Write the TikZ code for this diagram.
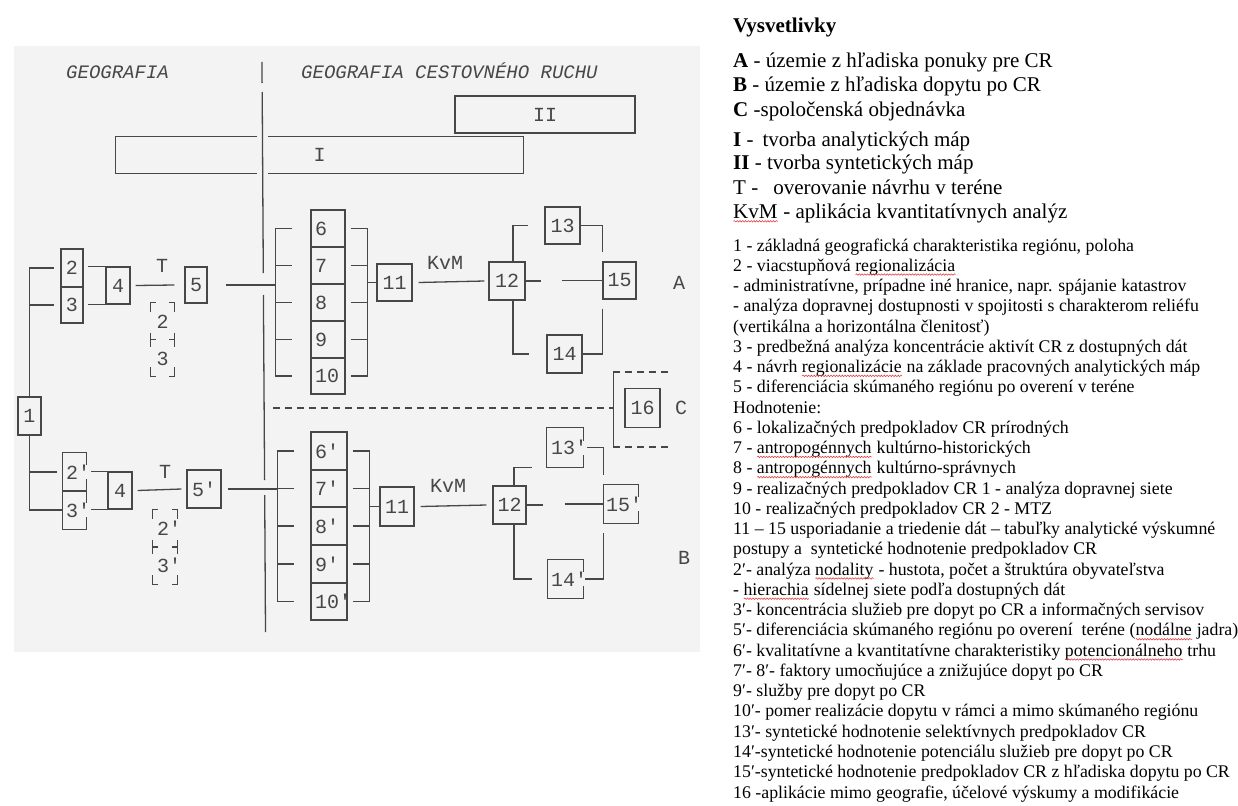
\documentclass[tikz,border=0pt]{standalone}
\usepackage{fontspec}
\setmainfont{Liberation Serif}
\newfontfamily\monof{Liberation Mono}[Ligatures=TeXOff]
\usetikzlibrary{calc,decorations.pathmorphing}

\definecolor{paper}{HTML}{F3F3F3}
\definecolor{inkc}{HTML}{474747}
\definecolor{spellred}{HTML}{E23B3B}

% red wavy spell-check underline under a word
\newlength\spellwd
\newcommand\spell[1]{\settowidth\spellwd{#1}\rlap{#1}\tikz[baseline=0pt,x=1pt,y=1pt]\draw[spellred,line width=0.55pt,decorate,decoration={snake,amplitude=0.75pt,segment length=2.8pt}] (0,-3.3) -- (\spellwd,-3.3);}

% box outline whose right edge is broken by the prime of its label
\newcommand\gapedge[1]{\draw[ink] ([yshift=7pt]#1.east) -- (#1.north east) -- (#1.north west) -- (#1.south west) -- (#1.south east) -- ([yshift=-7pt]#1.east);}

% bracket made only of corner and middle marks
\newcommand\cornermarks[1]{%
  \draw[ink] ([yshift=-9pt]#1.north west) -- (#1.north west) -- ([xshift=5pt]#1.north west);
  \draw[ink] ([yshift=-9pt]#1.north east) -- (#1.north east) -- ([xshift=-5pt]#1.north east);
  \draw[ink] ([yshift=9pt]#1.south west) -- (#1.south west) -- ([xshift=5pt]#1.south west);
  \draw[ink] ([yshift=9pt]#1.south east) -- (#1.south east) -- ([xshift=-5pt]#1.south east);
  \draw[ink] ([yshift=7pt]#1.west) -- ([yshift=-7pt]#1.west) (#1.west) -- ([xshift=5pt]#1.west);
  \draw[ink] ([yshift=7pt]#1.east) -- ([yshift=-7pt]#1.east) (#1.east) -- ([xshift=-5pt]#1.east);}

\newcommand\legline[2]{\node[legsmall] (ls#1) at (733,{251+20.26*#1}) {#2};}

\tikzset{
  ink/.style={draw=inkc, line width=1.3pt},
  dashedink/.style={ink, dash pattern=on 7pt off 5pt},
  mono/.style={font=\monof\fontsize{20}{20}\selectfont, text=inkc, inner sep=0pt},
  head/.style={font=\monof\itshape\fontsize{19}{19}\selectfont, text=inkc, inner sep=0pt, anchor=base west},
  box/.style={ink, mono, rectangle},
  stk/.style={align=left, text width=#1, inner xsep=4pt},
  legbig/.style={font=\fontsize{21}{24}\selectfont, anchor=base west, inner sep=0pt},
  legsmall/.style={font=\fontsize{17.8}{20}\selectfont, anchor=base west, inner sep=0pt},
}

\begin{document}
\begin{tikzpicture}[x=1pt,y=-1pt]
\useasboundingbox (0,0) rectangle (1238,805);
\fill[white] (0,0) rectangle (1238,805);
\fill[paper] (14,46) rectangle (700,652);

% headings and the dividing line
\node[head] (hGeo) at (66,79) {GEOGRAFIA};
\node[head] (hGcr) at (301,79) {GEOGRAFIA CESTOVNÉHO RUCHU};
\draw[ink] (262,62) -- (262.1,83);
\draw[ink] (262.2,92) -- (263.3,273);
\draw[ink] (263.4,295) -- (264.6,480);
\draw[ink] (264.7,495) -- (265.5,632);

% map bands I and II
\node[mono, minimum width=407, minimum height=36] (bI) at (319.5,155) {I};
\draw[ink] ([xshift=-62.5pt]bI.north) -- (bI.north west) -- (bI.south west) -- ([xshift=-62.5pt]bI.south);
\draw[ink] ([xshift=-51.5pt]bI.north) -- (bI.north east) -- (bI.south east) -- ([xshift=-51.5pt]bI.south);
\node[box, minimum width=180, minimum height=37] (bII) at (545,114.5) {II};

% ---------- supply branch (A) ----------
\node[box, minimum width=23, minimum height=38] (b1) at (29.5,416) {1};
\node[box, minimum width=22, minimum height=38] (b2) at (72,268) {2};
\node[box, minimum width=22, minimum height=36] (b3) at (72,305) {3};
\draw[ink] (b1.north) -- (b1.north |- b2.west) -- ([xshift=-6pt]b2.west);
\draw[ink] (b1.north |- b3.west) -- ([xshift=-6pt]b3.west);

\node[box, minimum width=24, minimum height=37] (b4) at (118,285.5) {4};
\draw[ink] ([xshift=-17pt]b4.north west) -- (b4.north west) ([xshift=-17pt]b4.south west) -- (b4.south west);
\node[box, minimum width=22, minimum height=36] (b5) at (196,285) {5};
\draw[ink] ([xshift=5pt]b4.east) -- ([xshift=-10pt]b5.west);
\node[mono] (tA) at (162,266) {T};

\node[minimum width=23, minimum height=73, inner sep=0pt] (db1) at (162.5,339.5) {};
\cornermarks{db1}
\node[mono] (d2) at (162.5,322) {2};
\node[mono] (d3) at (162.5,359) {3};

\foreach \n/\cy/\h in {6/228.5/37, 7/265.5/37, 8/302.5/37, 9/339.5/37, 10/376/36}
  \node[box, stk=26pt, minimum height=\h] (s\n) at (328,\cy) {\n};
\coordinate (ubL) at ([xshift=-35pt]s6.west);
\coordinate (ubR) at ([xshift=22pt]s6.east);
\draw[ink] ([xshift=-18pt]s6.west) -- (ubL) -- (ubL |- s10.west) -- ([xshift=-18pt]s10.west);
\foreach \r in {s7,s8,s9} \draw[ink] (ubL |- \r.west) -- ([xshift=-18pt]\r.west);
\draw[ink] ([xshift=18pt]b5.east) -- (ubL |- b5.east);
\draw[ink] ([xshift=5pt]s6.east) -- (ubR) -- (ubR |- s10.east) -- ([xshift=5pt]s10.east);
\foreach \r in {s7,s8,s9} \draw[ink] ([xshift=5pt]\r.east) -- (ubR |- \r.east);

\node[box, minimum width=35, minimum height=37] (b11) at (394.5,282.5) {11};
\draw[ink] (ubR |- b11.west) -- (b11.west);
\node[mono] (kvA) at (445,263) {KvM};
\node[box, minimum width=36, minimum height=38] (b12) at (507,281) {12};
\draw[ink] ([xshift=6pt]b11.east) -- ([xshift=-4pt]b12.west);
\node[box, minimum width=35, minimum height=37] (b13) at (562.5,225.5) {13};
\node[box, minimum width=35, minimum height=38] (b14) at (564.5,354) {14};
\node[box, minimum width=33, minimum height=37] (b15) at (619.5,280.5) {15};
\draw[ink] ([xshift=6pt]b12.north) |- ([xshift=-16pt]b13.west);
\draw[ink] ([xshift=6pt]b12.south) |- ([xshift=-17pt]b14.west);
\draw[ink] (b13.east) -| ([yshift=9pt]b15.north west);
\draw[ink] ([yshift=-9pt]b15.south west) |- (b14.east);
\draw[ink] (b12.east) -- ++(15,0);
\draw[ink] ([xshift=-40pt]b15.west) -- (b15.west);
\node[mono] (lA) at (679,283) {A};

% ---------- commissioned work (C) ----------
\node[box, minimum width=35, minimum height=39] (b16) at (642.5,408) {16};
\coordinate (cL) at (273,408);
\coordinate (cTop) at (671,372);
\coordinate (cBot) at (671,447);
\coordinate (cV) at ([xshift=-11pt]b16.west);
\draw[dashedink] (cL) -- (cV);
\draw[ink] (cV |- cTop) -- (cV |- cBot);
\draw[dashedink] (cV |- cTop) -- (cTop);
\draw[dashedink] (cV |- cBot) -- (cBot);
\node[mono] (lC) at (681,408) {C};

% ---------- demand branch (B) ----------
\node[mono, align=left, text width=17pt, inner xsep=3pt, minimum height=38] (b2p) at (74.5,472) {2'};
\node[mono, align=left, text width=17pt, inner xsep=3pt, minimum height=38] (b3p) at (74.5,510) {3'};
\gapedge{b2p}
\gapedge{b3p}
\draw[ink] (b1.south) -- (b1.south |- b3p.west) -- ([xshift=-1pt]b3p.west);
\draw[ink] (b1.south |- b2p.west) -- ([xshift=-6pt]b2p.west);

\node[box, minimum width=24, minimum height=37] (b4p) at (120,490.5) {4};
\draw[ink] ([xshift=-16pt]b4p.north west) -- (b4p.north west) ([xshift=-16pt]b4p.south west) -- (b4p.south west);
\node[box, minimum width=34, minimum height=38] (b5p) at (204,489) {5'};
\draw[ink] ([xshift=5pt]b4p.east) -- ([xshift=-5pt]b5p.west);
\node[mono] (tB) at (165,472) {T};

\node[minimum width=24, minimum height=74, inner sep=0pt] (db2) at (165,547) {};
\cornermarks{db2}
\node[mono] (d2p) at (169,528) {2'};
\node[mono] (d3p) at (169,565) {3'};

\foreach \n/\cy/\h in {6/451/38, 7/488.5/37, 8/526/38, 9/564/38, 10/601.5/37}
  \node[box, stk=28pt, minimum height=\h] (sp\n) at (329,\cy) {\n'};
\coordinate (lbL) at ([xshift=-33pt]sp6.west);
\coordinate (lbR) at ([xshift=22pt]sp6.east);
\draw[ink] ([xshift=-16pt]sp6.west) -- (lbL) -- (lbL |- sp10.west) -- ([xshift=-16pt]sp10.west);
\foreach \r in {sp7,sp8,sp9} \draw[ink] (lbL |- \r.west) -- ([xshift=-16pt]\r.west);
\draw[ink] ([xshift=6pt]b5p.east) -- (lbL |- b5p.east);
\draw[ink] ([xshift=5pt]sp6.east) -- (lbR) -- (lbR |- sp10.east) -- ([xshift=5pt]sp10.east);
\foreach \r in {sp7,sp8,sp9} \draw[ink] ([xshift=5pt]\r.east) -- (lbR |- \r.east);

\node[box, minimum width=34, minimum height=39] (b11p) at (397,506.5) {11};
\draw[ink] (lbR |- b11p.west) -- (b11p.west);
\node[mono] (kvB) at (448,486) {KvM};
\node[box, minimum width=33, minimum height=38] (b12p) at (509.5,505) {12};
\draw[ink] ([xshift=6pt]b11p.east) -- ([xshift=-6pt]b12p.west);
\node[mono, align=left, text width=28pt, inner xsep=4pt, minimum height=39] (b13p) at (565,447.5) {13'};
\node[mono, align=left, text width=29pt, inner xsep=3pt, minimum height=38] (b14p) at (565.5,579) {14'};
\node[mono, align=left, text width=30pt, inner xsep=2pt, minimum height=38] (b15p) at (621,504) {15'};
\gapedge{b13p}
\gapedge{b14p}
\gapedge{b15p}
\draw[ink] ([xshift=4.5pt]b12p.north) |- ([xshift=-15pt]b13p.south west);
\draw[ink] ([xshift=4.5pt]b12p.south) |- ([xshift=-16pt]b14p.west);
\draw[ink] ([xshift=4pt]b13p.east) -| ([yshift=10pt]b15p.north west);
\draw[ink] ([yshift=-10pt]b15p.south west) |- ([xshift=2pt]b14p.east);
\draw[ink] (b12p.east) -- ++(16,0);
\draw[ink] ([xshift=-39pt]b15p.west) -- (b15p.west);
\node[mono] (lB) at (684,558) {B};

% ---------- legend ----------
\node[legbig] (lgT) at (733,33) {\textbf{Vysvetlivky}};
\node[legbig] (lgA) at (733,68) {\textbf{A} - územie z hľadiska ponuky pre CR};
\node[legbig] (lgB) at (733,92) {\textbf{B} - územie z hľadiska dopytu po CR};
\node[legbig] (lgC) at (733,117) {\textbf{C} -spoločenská objednávka};
\node[legbig] (lgI) at (733,147) {\textbf{I} -\hspace{9pt}tvorba analytických máp};
\node[legbig] (lgII) at (733,170) {\textbf{II} - tvorba syntetických máp};
\node[legbig] (lgTT) at (733,194) {T -\hspace{15pt}overovanie návrhu v teréne};
\node[legbig] (lgK) at (733,218) {\spell{KvM} - aplikácia kvantitatívnych analýz};

\legline{0}{1 - základná geografická charakteristika regiónu, poloha}
\legline{1}{2 - viacstupňová \spell{regionalizácia}}
\legline{2}{- administratívne, prípadne iné hranice, napr. spájanie katastrov}
\legline{3}{- analýza dopravnej dostupnosti v spojitosti s charakterom reliéfu}
\legline{4}{(vertikálna a horizontálna členitosť)}
\legline{5}{3 - predbežná analýza koncentrácie aktivít CR z dostupných dát}
\legline{6}{4 - návrh \spell{regionalizácie} na základe pracovných analytických máp}
\legline{7}{5 - diferenciácia skúmaného regiónu po overení v teréne}
\legline{8}{Hodnotenie:}
\legline{9}{6 - lokalizačných predpokladov CR prírodných}
\legline{10}{7 - \spell{antropogénnych} kultúrno-historických}
\legline{11}{8 - \spell{antropogénnych} kultúrno-správnych}
\legline{12}{9 - realizačných predpokladov CR 1 - analýza dopravnej siete}
\legline{13}{10 - realizačných predpokladov CR 2 - MTZ}
\legline{14}{11 – 15 usporiadanie a triedenie dát – tabuľky analytické výskumné}
\legline{15}{postupy a\ \ syntetické hodnotenie predpokladov CR}
\legline{16}{2′- analýza \spell{nodality} - hustota, počet a štruktúra obyvateľstva}
\legline{17}{- \spell{hierachia} sídelnej siete podľa dostupných dát}
\legline{18}{3′- koncentrácia služieb pre dopyt po CR a informačných servisov}
\legline{19}{5′- diferenciácia skúmaného regiónu po overení\ \ teréne (\spell{nodálne} jadra)}
\legline{20}{6′- kvalitatívne a kvantitatívne charakteristiky \spell{potencionálneho} trhu}
\legline{21}{7′- 8′- faktory umocňujúce a znižujúce dopyt po CR}
\legline{22}{9′- služby pre dopyt po CR}
\legline{23}{10′- pomer realizácie dopytu v rámci a mimo skúmaného regiónu}
\legline{24}{13′- syntetické hodnotenie selektívnych predpokladov CR}
\legline{25}{14′-syntetické hodnotenie potenciálu služieb pre dopyt po CR}
\legline{26}{15′-syntetické hodnotenie predpokladov CR z hľadiska dopytu po CR}
\legline{27}{16 -aplikácie mimo geografie, účelové výskumy a modifikácie}
\end{tikzpicture}
\end{document}
